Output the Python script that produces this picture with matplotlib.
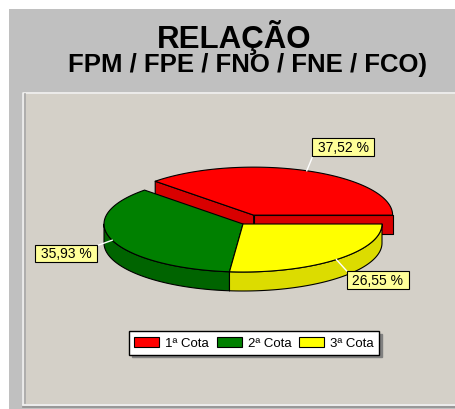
import numpy as np
import matplotlib
matplotlib.use('Agg')
import matplotlib.pyplot as plt
from matplotlib.patches import Polygon, Rectangle, Patch

# --------------------
# Data
# --------------------
categories = ['1ª Cota', '2ª Cota', '3ª Cota']
values = [37.52, 35.93, 26.55]
value_labels = ['37,52 %', '35,93 %', '26,55 %']
title_1 = 'RELAÇÃO'
title_2 = 'FPM / FPE / FNO / FNE / FCO)'

top_colors = ['#ff0000', '#008000', '#ffff00']
side_colors = ['#d80000', '#006400', '#dcdc00']
explode = [0.2, 0.0, 0.0]

plt.rcParams['font.family'] = ['Liberation Sans', 'DejaVu Sans']

fig = plt.figure(figsize=(4.56, 4.10), dpi=100)
ax = fig.add_axes([0, 0, 1, 1])
ax.set_xlim(0, 456)
ax.set_ylim(410, 0)
ax.axis('off')

# --------------------
# Panels
# --------------------
ax.add_patch(Rectangle((9, 10), 460, 410, facecolor='#c0c0c0', edgecolor='none'))
ax.add_patch(Rectangle((23, 93), 440, 312, facecolor='#d4d0c8', edgecolor='none'))
ax.plot([23.5, 23.5, 460], [405, 93.5, 93.5], color='#f0f0f0', lw=1.2)
ax.plot([25, 25], [95, 404], color='#a8a8a8', lw=1.2)
ax.plot([23, 460], [405.5, 405.5], color='#f4f4f4', lw=1.2)
ax.plot([23, 460], [407.5, 407.5], color='#909090', lw=1.2)

ax.text(234, 48, title_1, ha='center', va='baseline', fontsize=22.5, fontweight='bold')
ax.text(248, 72, title_2, ha='center', va='baseline', fontsize=18.5, fontweight='bold')

# --------------------
# 3D pie
# --------------------
cx, cy, rx, ry, depth = 243, 225, 139, 48, 19
edge_kw = dict(edgecolor='black', lw=0.8, joinstyle='round')


def arc(x0, y0, t0, t1, dy=0.0, n=80):
    t = np.radians(np.linspace(t0, t1, n))
    return np.column_stack([x0 + rx * np.cos(t), y0 - ry * np.sin(t) + dy])


def point(x0, y0, t):
    t = np.radians(t)
    return np.array([x0 + rx * np.cos(t), y0 - ry * np.sin(t)])


bounds = np.concatenate([[0], np.cumsum(values) / np.sum(values) * 360])
slices = []
for i in range(len(values)):
    t0, t1 = bounds[i], bounds[i + 1]
    mid = (t0 + t1) / 2
    m = np.radians(mid)
    x0 = cx + explode[i] * rx * np.cos(m)
    y0 = cy - explode[i] * ry * np.sin(m)
    slices.append((i, t0, t1, mid, x0, y0))

# back to front
for i, t0, t1, mid, x0, y0 in sorted(slices, key=lambda s: -np.sin(np.radians(s[3]))):
    # radial cut faces
    for t, visible in [(t0, np.cos(np.radians(t0)) > 0), (t1, np.cos(np.radians(t1)) < 0)]:
        if visible:
            p = point(x0, y0, t)
            face = [(x0, y0), p, p + [0, depth], (x0, y0 + depth)]
            ax.add_patch(Polygon(face, closed=True, facecolor=side_colors[i], **edge_kw))
    # outer wall (front half)
    a, b = max(t0, 180), min(t1, 360)
    if a < b:
        wall = np.vstack([arc(x0, y0, a, b), arc(x0, y0, b, a, dy=depth)])
        ax.add_patch(Polygon(wall, closed=True, facecolor=side_colors[i], **edge_kw))
    # top face
    top = np.vstack([[x0, y0], arc(x0, y0, t0, t1)])
    ax.add_patch(Polygon(top, closed=True, facecolor=top_colors[i], **edge_kw))

# value labels with leader lines
for i, t0, t1, mid, x0, y0 in slices:
    m = np.radians(mid)
    p = point(x0, y0, mid)
    q = p + 18 * np.array([np.cos(m), -np.sin(m)])
    ax.plot([p[0], q[0]], [p[1], q[1]], color='white', lw=1)
    ha = 'left' if np.cos(m) > 0 else 'right'
    va = 'bottom' if np.sin(m) > 0 else 'top'
    ax.text(q[0], q[1], ' ' + value_labels[i] + ' ', ha=ha, va=va, fontsize=10,
            bbox=dict(boxstyle='square,pad=0.12', facecolor='#ffff99', edgecolor='black', lw=0.8))

# --------------------
# Legend
# --------------------
handles = [Patch(facecolor=c, edgecolor='black', lw=0.8, label=lab)
           for c, lab in zip(top_colors, categories)]
leg = ax.legend(handles=handles, ncol=3, loc='center', bbox_to_anchor=(254, 344),
                bbox_transform=ax.transData, frameon=True, fancybox=False,
                shadow={'color': '#808080', 'alpha': 1}, edgecolor='black', facecolor='white',
                framealpha=1, fontsize=9.5, handlelength=1.9, handleheight=0.85,
                handletextpad=0.45, columnspacing=0.6, borderpad=0.4)
leg.get_frame().set_linewidth(1)

fig.savefig('out.png', dpi=100)
